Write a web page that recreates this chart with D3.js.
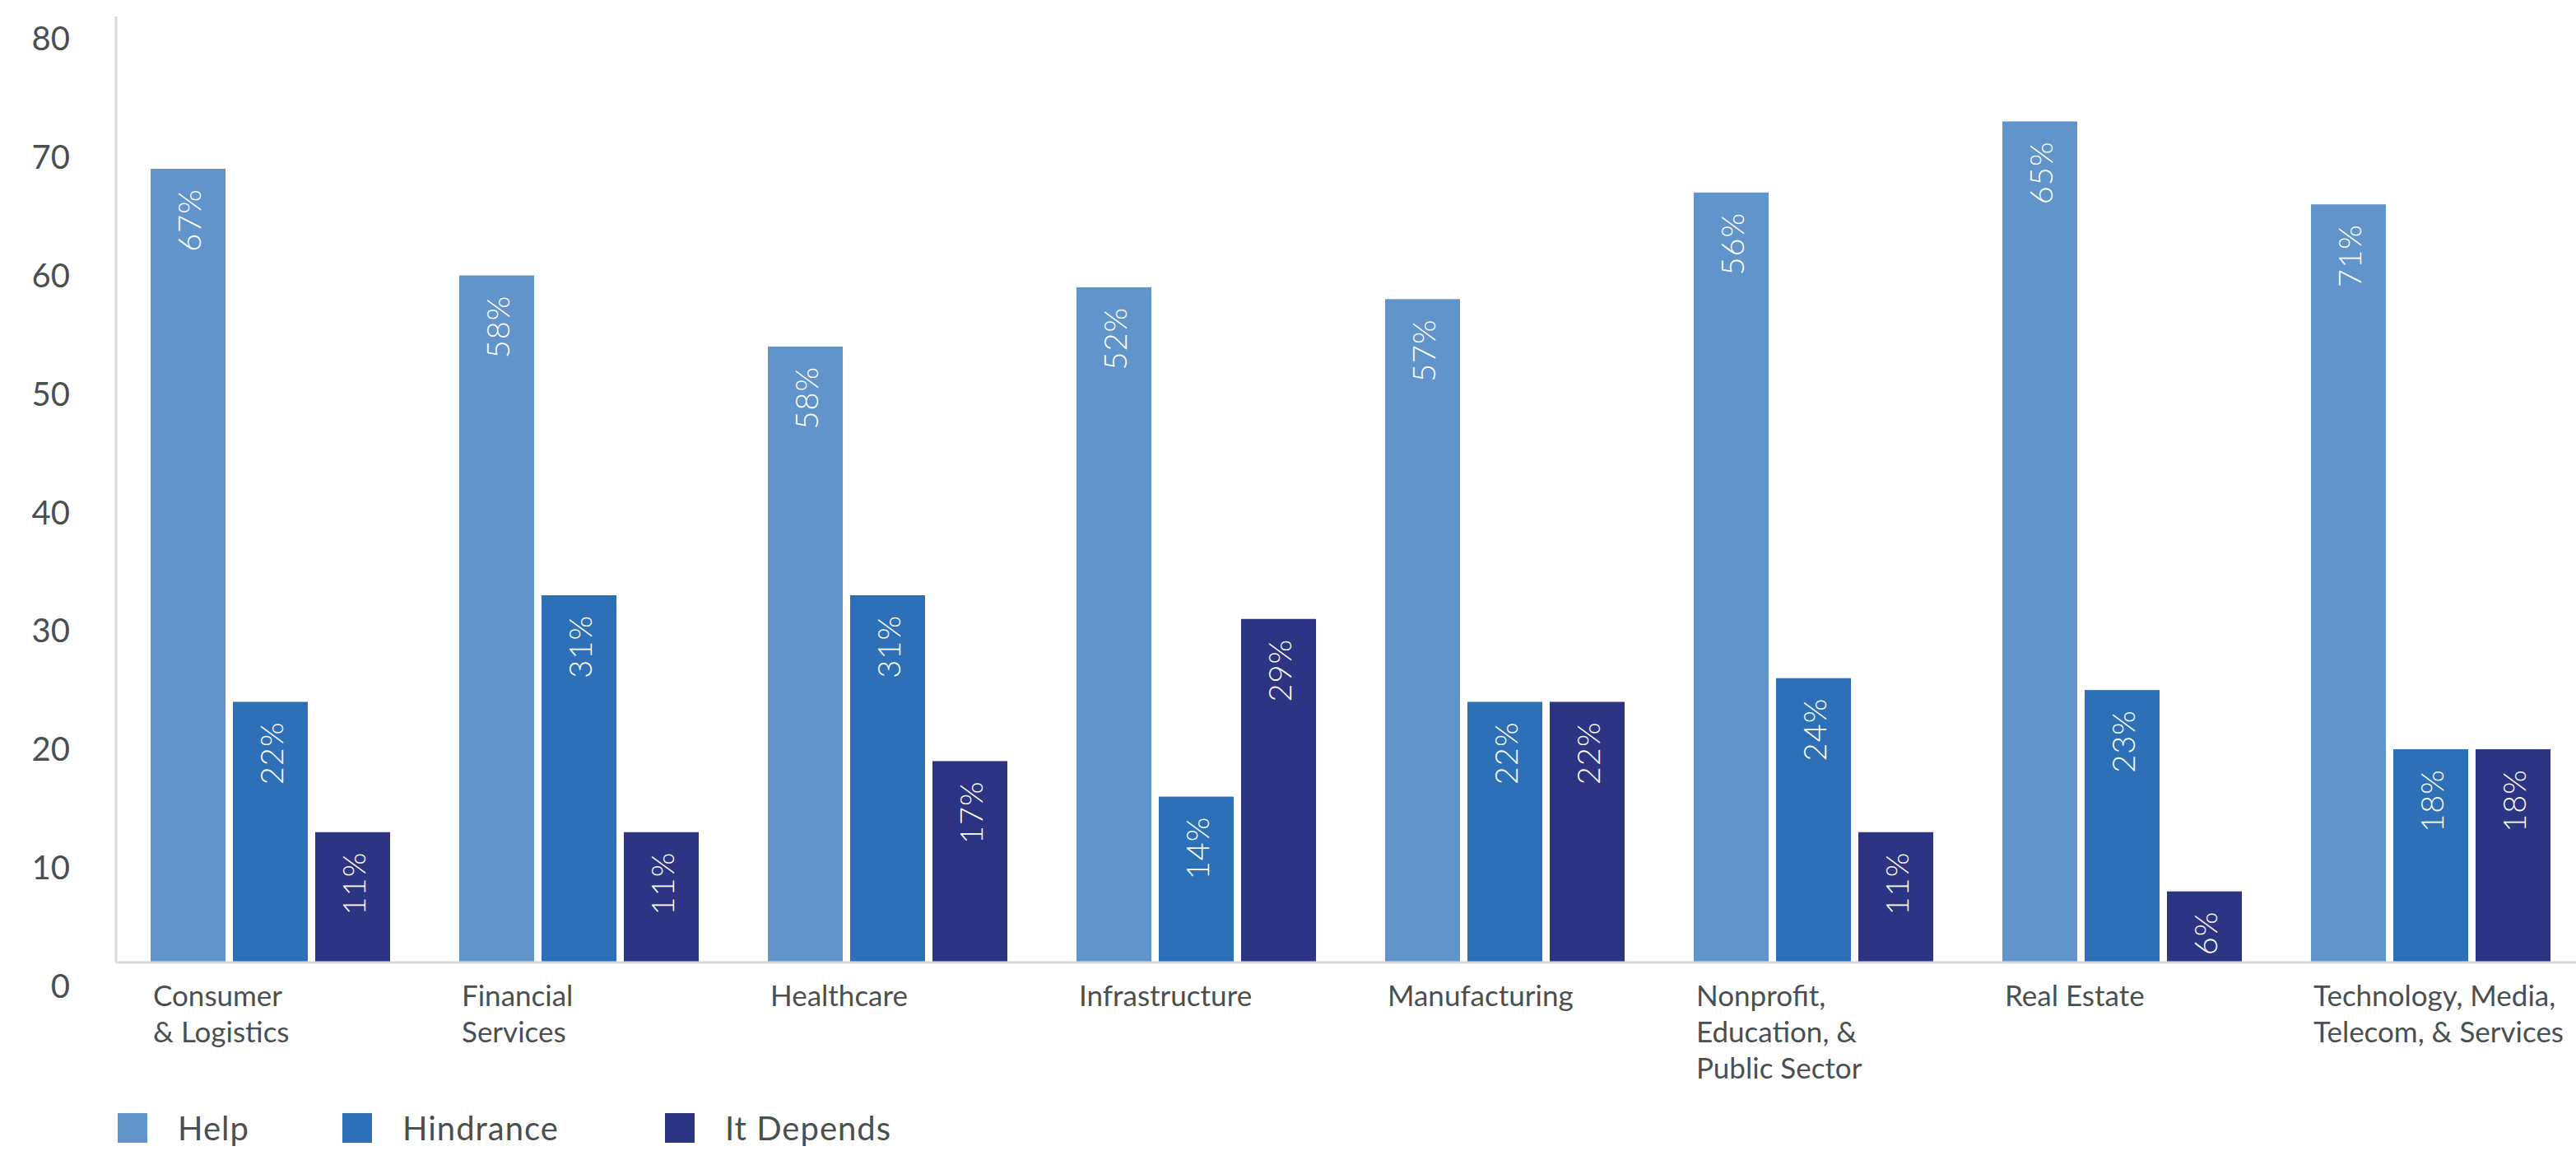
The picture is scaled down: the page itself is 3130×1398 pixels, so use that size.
<!DOCTYPE html>
<html>
<head>
<meta charset="utf-8">
<script src="https://cdn.jsdelivr.net/npm/d3@7"></script>
<style>
  html, body { margin: 0; padding: 0; background: #fff; }
  svg { display: block; }
</style>
</head>
<body>
<svg id="chart" width="3130" height="1398"></svg>
<script>
const categories = [
  ["Consumer", "& Logistics"],
  ["Financial", "Services"],
  ["Healthcare"],
  ["Infrastructure"],
  ["Manufacturing"],
  ["Nonprofit,", "Education, &", "Public Sector"],
  ["Real Estate"],
  ["Technology, Media,", "Telecom, & Services"]
];
const seriesNames = ["Help", "Hindrance", "It Depends"];
const helpValues      = [67, 58, 52, 57, 56, 65, 71, 64];
const hindranceValues = [22, 31, 31, 14, 22, 24, 23, 18];
const dependsValues   = [11, 11, 17, 29, 22, 11, 6, 18];
const helpLabels      = ["67%", "58%", "58%", "52%", "57%", "56%", "65%", "71%"];
const hindranceLabels = ["22%", "31%", "31%", "14%", "22%", "24%", "23%", "18%"];
const dependsLabels   = ["11%", "11%", "17%", "29%", "22%", "11%", "6%", "18%"];
const yTicks = [0, 10, 20, 30, 40, 50, 60, 70, 80];

const colors = ["#6094cb", "#2e70b8", "#2e3484"];
const textColor = "#4a4f50";
const axisColor = "#d9d9d6";
const font = "Lato, 'Open Sans', sans-serif";

const values = [helpValues, hindranceValues, dependsValues];
const labels = [helpLabels, hindranceLabels, dependsLabels];

const svg = d3.select("#chart");
const axisX = 141, baseY = 1169;

const x0 = d3.scaleBand().domain(d3.range(categories.length))
  .range([axisX, axisX + 3000]).paddingInner(0.224).paddingOuter(0.112);
const x1 = d3.scaleBand().domain(d3.range(seriesNames.length))
  .range([0, x0.bandwidth()]).paddingInner(0.09);
const y = d3.scaleLinear().domain([0, 80]).range([baseY, 18]);

// y tick labels (offset below their nominal positions, as in the reference)
svg.append("g").selectAll("text").data(yTicks).join("text")
  .attr("x", 85).attr("y", d => y(d) + 28)
  .attr("text-anchor", "end").attr("dominant-baseline", "central")
  .attr("font-family", font).attr("font-size", 40).attr("fill", textColor)
  .text(d => d);

// axis lines
svg.append("line").attr("x1", axisX).attr("x2", axisX).attr("y1", 20).attr("y2", baseY)
  .attr("stroke", axisColor).attr("stroke-width", 3);

// bars
const groups = svg.append("g").selectAll("g").data(categories).join("g")
  .attr("transform", (d, i) => `translate(${x0(i)},0)`);

groups.each(function(cat, i) {
  const g = d3.select(this);
  seriesNames.forEach((s, j) => {
    const v = values[j][i];
    g.append("rect")
      .attr("x", x1(j)).attr("width", x1.bandwidth())
      .attr("y", y(v)).attr("height", baseY - y(v) + 1)
      .attr("fill", colors[j]);
    g.append("text")
      .attr("transform", `translate(${x1(j) + x1.bandwidth() / 2},${y(v) + 24}) rotate(-90)`)
      .attr("text-anchor", "end").attr("dominant-baseline", "central")
      .attr("font-family", font).attr("font-weight", 300).attr("font-size", 38)
      .attr("letter-spacing", 1).attr("fill", "#fff")
      .text(labels[j][i]);
  });
  const t = g.append("text")
    .attr("font-family", font).attr("font-size", 35).attr("fill", textColor);
  cat.forEach((line, k) => {
    t.append("tspan").attr("x", 3).attr("y", 1222 + k * 44).text(line);
  });
});

svg.append("line").attr("x1", axisX).attr("x2", 3130).attr("y1", baseY).attr("y2", baseY)
  .attr("stroke", axisColor).attr("stroke-width", 3);

// legend
const legendX = [143, 416, 808];
const legend = svg.append("g").selectAll("g").data(seriesNames).join("g")
  .attr("transform", (d, i) => `translate(${legendX[i]},1352)`);
legend.append("rect").attr("width", 36).attr("height", 36).attr("fill", (d, i) => colors[i]);
legend.append("text").attr("x", 73).attr("y", 33)
  .attr("font-family", font).attr("font-size", 40).attr("letter-spacing", 1)
  .attr("fill", textColor)
  .text(d => d);
</script>
</body>
</html>
